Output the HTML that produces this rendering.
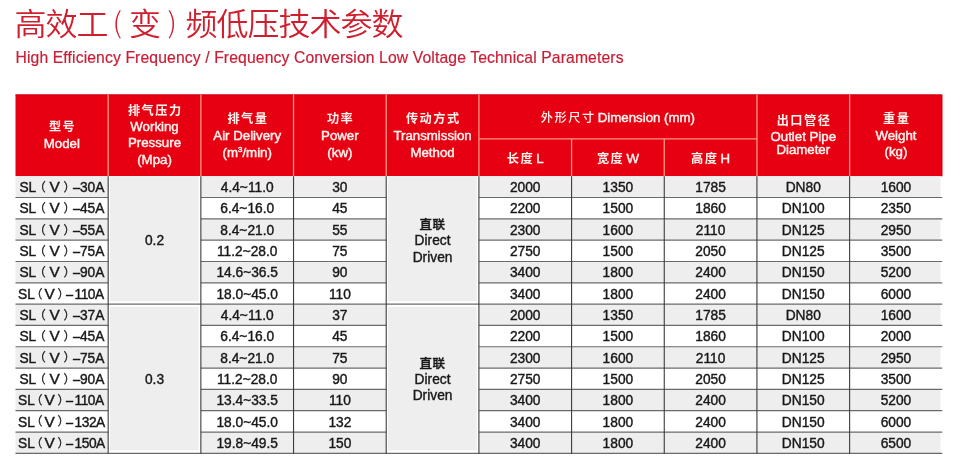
<!DOCTYPE html>
<html lang="zh-CN">
<head>
<meta charset="utf-8">
<title>高效工(变)频低压技术参数</title>
<style>
html,body{margin:0;padding:0;background:#fff;}
body{width:960px;height:473px;position:relative;overflow:hidden;font-family:"Liberation Sans","Noto Sans CJK SC",sans-serif;color:#181818;}
#bg{position:absolute;left:0;top:0;width:960px;height:473px;}
h1{position:absolute;left:14.5px;top:-1.4px;margin:0;font-family:"Noto Sans CJK SC","Liberation Sans",sans-serif;font-weight:350;font-size:32px;line-height:44px;letter-spacing:-1px;color:#cf1f2e;transform-origin:0 37px;transform:scaleY(0.95);white-space:nowrap;}
h1 .pl{display:inline-block;position:relative;top:-2px;letter-spacing:0;text-align:center;font-weight:300;font-size:30px;}
h1 .pl1{width:21.5px;left:-1px;}
h1 .pl2{width:25.5px;left:-0.5px;}
h2{position:absolute;left:15.5px;top:47.6px;margin:0;font-weight:400;font-size:15.7px;line-height:20px;letter-spacing:0.13px;color:#c81e36;-webkit-text-stroke:0.2px #c81e36;white-space:nowrap;}
.d{position:absolute;width:92.68px;height:21.32px;line-height:21.32px;font-size:13.75px;text-align:center;padding-top:0.9px;white-space:nowrap;-webkit-text-stroke:0.4px #181818;}
.m{position:absolute;left:0;width:110px;height:21.32px;line-height:21.32px;font-size:13.75px;white-space:nowrap;-webkit-text-stroke:0.4px #181818;}
.m span{position:absolute;top:0.9px;}
.m .p1,.m .p2{font-family:"Noto Sans CJK SC",sans-serif;font-size:12px;-webkit-text-stroke:0.25px #181818;top:-0.3px;margin-left:0.3px;}
.m .ds{transform-origin:0 50%;transform:scaleX(0.93);}
.m .v{transform-origin:50% 50%;transform:scaleX(1.12);}

.m2 .a{left:19.4px} .m2 .p1{left:33.4px} .m2 .v{left:50.3px} .m2 .p2{left:63.2px} .m2 .ds{left:72.6px} .m2 .n{left:79.9px}
.m3 .a{left:18px} .m3 .p1{left:30.1px} .m3 .v{left:44.8px} .m3 .p2{left:57.1px} .m3 .ds{left:66.2px} .m3 .n{left:74.6px;letter-spacing:-0.5px}
.mg{position:absolute;width:92.68px;display:flex;align-items:center;justify-content:center;text-align:center;font-size:13.75px;line-height:16.7px;-webkit-text-stroke:0.4px #181818;}
.h{position:absolute;height:16px;line-height:16px;text-align:center;color:#fff4ee;font-size:13.25px;white-space:nowrap;-webkit-text-stroke:0.45px #fff4ee;}
.h .zh{font-family:"Noto Sans CJK SC",sans-serif;font-weight:700;font-size:12.2px;letter-spacing:1.5px;margin-right:-1.5px;-webkit-text-stroke:0;}
.h .zl{font-weight:500;}
.mg .zh{font-family:"Noto Sans CJK SC",sans-serif;font-weight:500;font-size:12.5px;letter-spacing:0.5px;line-height:1;position:relative;top:0.6px;}
sup{font-size:8px;line-height:0;vertical-align:5px;}
</style>
</head>
<body>
<svg id="bg" width="960" height="473" viewBox="0 0 960 473">
<rect x="15.5" y="94.5" width="926.8" height="81.7" fill="#e60012"/>
<path d="M15.5 95H941.8V176.2" fill="none" stroke="#c9000f" stroke-width="1"/>
<rect x="15.5" y="176.2" width="925" height="21.32" fill="#eeeeee"/>
<rect x="15.5" y="218.84" width="925" height="21.32" fill="#eeeeee"/>
<rect x="15.5" y="261.48" width="925" height="21.32" fill="#eeeeee"/>
<rect x="15.5" y="304.12" width="925" height="21.32" fill="#eeeeee"/>
<rect x="15.5" y="346.76" width="925" height="21.32" fill="#eeeeee"/>
<rect x="15.5" y="389.4" width="925" height="21.32" fill="#eeeeee"/>
<rect x="15.5" y="432.04" width="925" height="21.32" fill="#eeeeee"/>
<rect x="108.18" y="176.2" width="92.68" height="277.16" fill="#fff"/>
<rect x="109.98" y="176.2" width="88.68" height="125.12" fill="#eeeeee"/>
<rect x="109.98" y="306.72" width="88.68" height="143.64" fill="#eeeeee"/>
<rect x="386.22" y="176.2" width="92.68" height="277.16" fill="#fff"/>
<rect x="388.02" y="176.2" width="88.68" height="125.12" fill="#eeeeee"/>
<rect x="388.02" y="306.72" width="88.68" height="143.64" fill="#eeeeee"/>
<line x1="108.18" y1="94.5" x2="108.18" y2="176.2" stroke="#ff9685" stroke-width="1.3"/>
<line x1="200.86" y1="94.5" x2="200.86" y2="176.2" stroke="#ff9685" stroke-width="1.3"/>
<line x1="293.54" y1="94.5" x2="293.54" y2="176.2" stroke="#ff9685" stroke-width="1.3"/>
<line x1="386.22" y1="94.5" x2="386.22" y2="176.2" stroke="#ff9685" stroke-width="1.3"/>
<line x1="478.9" y1="94.5" x2="478.9" y2="176.2" stroke="#ff9685" stroke-width="1.3"/>
<line x1="571.58" y1="138.9" x2="571.58" y2="176.2" stroke="#ff9685" stroke-width="1.3"/>
<line x1="664.26" y1="138.9" x2="664.26" y2="176.2" stroke="#ff9685" stroke-width="1.3"/>
<line x1="756.94" y1="94.5" x2="756.94" y2="176.2" stroke="#ff9685" stroke-width="1.3"/>
<line x1="849.62" y1="94.5" x2="849.62" y2="176.2" stroke="#ff9685" stroke-width="1.3"/>
<line x1="478.9" y1="138.9" x2="756.94" y2="138.9" stroke="#ff9685" stroke-width="1.3"/>
<line x1="15.5" y1="197.52" x2="108.18" y2="197.52" stroke="#6a6a6a" stroke-width="1.2"/>
<line x1="200.86" y1="197.52" x2="386.22" y2="197.52" stroke="#6a6a6a" stroke-width="1.2"/>
<line x1="478.9" y1="197.52" x2="942.3" y2="197.52" stroke="#6a6a6a" stroke-width="1.2"/>
<line x1="15.5" y1="218.84" x2="108.18" y2="218.84" stroke="#6a6a6a" stroke-width="1.2"/>
<line x1="200.86" y1="218.84" x2="386.22" y2="218.84" stroke="#6a6a6a" stroke-width="1.2"/>
<line x1="478.9" y1="218.84" x2="942.3" y2="218.84" stroke="#6a6a6a" stroke-width="1.2"/>
<line x1="15.5" y1="240.16" x2="108.18" y2="240.16" stroke="#6a6a6a" stroke-width="1.2"/>
<line x1="200.86" y1="240.16" x2="386.22" y2="240.16" stroke="#6a6a6a" stroke-width="1.2"/>
<line x1="478.9" y1="240.16" x2="942.3" y2="240.16" stroke="#6a6a6a" stroke-width="1.2"/>
<line x1="15.5" y1="261.48" x2="108.18" y2="261.48" stroke="#6a6a6a" stroke-width="1.2"/>
<line x1="200.86" y1="261.48" x2="386.22" y2="261.48" stroke="#6a6a6a" stroke-width="1.2"/>
<line x1="478.9" y1="261.48" x2="942.3" y2="261.48" stroke="#6a6a6a" stroke-width="1.2"/>
<line x1="15.5" y1="282.8" x2="108.18" y2="282.8" stroke="#6a6a6a" stroke-width="1.2"/>
<line x1="200.86" y1="282.8" x2="386.22" y2="282.8" stroke="#6a6a6a" stroke-width="1.2"/>
<line x1="478.9" y1="282.8" x2="942.3" y2="282.8" stroke="#6a6a6a" stroke-width="1.2"/>
<line x1="15.5" y1="304.12" x2="942.3" y2="304.12" stroke="#6a6a6a" stroke-width="1.2"/>
<line x1="15.5" y1="325.44" x2="108.18" y2="325.44" stroke="#6a6a6a" stroke-width="1.2"/>
<line x1="200.86" y1="325.44" x2="386.22" y2="325.44" stroke="#6a6a6a" stroke-width="1.2"/>
<line x1="478.9" y1="325.44" x2="942.3" y2="325.44" stroke="#6a6a6a" stroke-width="1.2"/>
<line x1="15.5" y1="346.76" x2="108.18" y2="346.76" stroke="#6a6a6a" stroke-width="1.2"/>
<line x1="200.86" y1="346.76" x2="386.22" y2="346.76" stroke="#6a6a6a" stroke-width="1.2"/>
<line x1="478.9" y1="346.76" x2="942.3" y2="346.76" stroke="#6a6a6a" stroke-width="1.2"/>
<line x1="15.5" y1="368.08" x2="108.18" y2="368.08" stroke="#6a6a6a" stroke-width="1.2"/>
<line x1="200.86" y1="368.08" x2="386.22" y2="368.08" stroke="#6a6a6a" stroke-width="1.2"/>
<line x1="478.9" y1="368.08" x2="942.3" y2="368.08" stroke="#6a6a6a" stroke-width="1.2"/>
<line x1="15.5" y1="389.4" x2="108.18" y2="389.4" stroke="#6a6a6a" stroke-width="1.2"/>
<line x1="200.86" y1="389.4" x2="386.22" y2="389.4" stroke="#6a6a6a" stroke-width="1.2"/>
<line x1="478.9" y1="389.4" x2="942.3" y2="389.4" stroke="#6a6a6a" stroke-width="1.2"/>
<line x1="15.5" y1="410.72" x2="108.18" y2="410.72" stroke="#6a6a6a" stroke-width="1.2"/>
<line x1="200.86" y1="410.72" x2="386.22" y2="410.72" stroke="#6a6a6a" stroke-width="1.2"/>
<line x1="478.9" y1="410.72" x2="942.3" y2="410.72" stroke="#6a6a6a" stroke-width="1.2"/>
<line x1="15.5" y1="432.04" x2="108.18" y2="432.04" stroke="#6a6a6a" stroke-width="1.2"/>
<line x1="200.86" y1="432.04" x2="386.22" y2="432.04" stroke="#6a6a6a" stroke-width="1.2"/>
<line x1="478.9" y1="432.04" x2="942.3" y2="432.04" stroke="#6a6a6a" stroke-width="1.2"/>
<line x1="15.5" y1="453.36" x2="942.3" y2="453.36" stroke="#6a6a6a" stroke-width="1.2"/>
<line x1="108.18" y1="176.2" x2="108.18" y2="453.86" stroke="#3c3c3c" stroke-width="1.1"/>
<line x1="200.86" y1="176.2" x2="200.86" y2="453.86" stroke="#3c3c3c" stroke-width="1.1"/>
<line x1="293.54" y1="176.2" x2="293.54" y2="453.86" stroke="#3c3c3c" stroke-width="1.1"/>
<line x1="386.22" y1="176.2" x2="386.22" y2="453.86" stroke="#3c3c3c" stroke-width="1.1"/>
<line x1="478.9" y1="176.2" x2="478.9" y2="453.86" stroke="#3c3c3c" stroke-width="1.1"/>
<line x1="571.58" y1="176.2" x2="571.58" y2="453.86" stroke="#3c3c3c" stroke-width="1.1"/>
<line x1="664.26" y1="176.2" x2="664.26" y2="453.86" stroke="#3c3c3c" stroke-width="1.1"/>
<line x1="756.94" y1="176.2" x2="756.94" y2="453.86" stroke="#3c3c3c" stroke-width="1.1"/>
<line x1="849.62" y1="176.2" x2="849.62" y2="453.86" stroke="#3c3c3c" stroke-width="1.1"/>
</svg>
<h1>高效工<span class="pl pl1">(</span>变<span class="pl pl2">)</span>频低压技术参数</h1>
<h2>High Efficiency Frequency / Frequency Conversion Low Voltage Technical Parameters</h2>
<div class="m m2" style="top:176.2px"><span class="a">SL</span><span class="p1">（</span><span class="v">V</span><span class="p2">）</span><span class="ds">–</span><span class="n">30A</span></div>
<div class="d" style="left:200.86px;top:176.2px">4.4~11.0</div>
<div class="d" style="left:293.54px;top:176.2px">30</div>
<div class="d" style="left:478.9px;top:176.2px">2000</div>
<div class="d" style="left:571.58px;top:176.2px">1350</div>
<div class="d" style="left:664.26px;top:176.2px">1785</div>
<div class="d" style="left:756.94px;top:176.2px">DN80</div>
<div class="d" style="left:849.62px;top:176.2px">1600</div>
<div class="m m2" style="top:197.52px"><span class="a">SL</span><span class="p1">（</span><span class="v">V</span><span class="p2">）</span><span class="ds">–</span><span class="n">45A</span></div>
<div class="d" style="left:200.86px;top:197.52px">6.4~16.0</div>
<div class="d" style="left:293.54px;top:197.52px">45</div>
<div class="d" style="left:478.9px;top:197.52px">2200</div>
<div class="d" style="left:571.58px;top:197.52px">1500</div>
<div class="d" style="left:664.26px;top:197.52px">1860</div>
<div class="d" style="left:756.94px;top:197.52px">DN100</div>
<div class="d" style="left:849.62px;top:197.52px">2350</div>
<div class="m m2" style="top:218.84px"><span class="a">SL</span><span class="p1">（</span><span class="v">V</span><span class="p2">）</span><span class="ds">–</span><span class="n">55A</span></div>
<div class="d" style="left:200.86px;top:218.84px">8.4~21.0</div>
<div class="d" style="left:293.54px;top:218.84px">55</div>
<div class="d" style="left:478.9px;top:218.84px">2300</div>
<div class="d" style="left:571.58px;top:218.84px">1600</div>
<div class="d" style="left:664.26px;top:218.84px">2110</div>
<div class="d" style="left:756.94px;top:218.84px">DN125</div>
<div class="d" style="left:849.62px;top:218.84px">2950</div>
<div class="m m2" style="top:240.16px"><span class="a">SL</span><span class="p1">（</span><span class="v">V</span><span class="p2">）</span><span class="ds">–</span><span class="n">75A</span></div>
<div class="d" style="left:200.86px;top:240.16px">11.2~28.0</div>
<div class="d" style="left:293.54px;top:240.16px">75</div>
<div class="d" style="left:478.9px;top:240.16px">2750</div>
<div class="d" style="left:571.58px;top:240.16px">1500</div>
<div class="d" style="left:664.26px;top:240.16px">2050</div>
<div class="d" style="left:756.94px;top:240.16px">DN125</div>
<div class="d" style="left:849.62px;top:240.16px">3500</div>
<div class="m m2" style="top:261.48px"><span class="a">SL</span><span class="p1">（</span><span class="v">V</span><span class="p2">）</span><span class="ds">–</span><span class="n">90A</span></div>
<div class="d" style="left:200.86px;top:261.48px">14.6~36.5</div>
<div class="d" style="left:293.54px;top:261.48px">90</div>
<div class="d" style="left:478.9px;top:261.48px">3400</div>
<div class="d" style="left:571.58px;top:261.48px">1800</div>
<div class="d" style="left:664.26px;top:261.48px">2400</div>
<div class="d" style="left:756.94px;top:261.48px">DN150</div>
<div class="d" style="left:849.62px;top:261.48px">5200</div>
<div class="m m3" style="top:282.8px"><span class="a">SL</span><span class="p1">（</span><span class="v">V</span><span class="p2">）</span><span class="ds">–</span><span class="n">110A</span></div>
<div class="d" style="left:200.86px;top:282.8px">18.0~45.0</div>
<div class="d" style="left:293.54px;top:282.8px">110</div>
<div class="d" style="left:478.9px;top:282.8px">3400</div>
<div class="d" style="left:571.58px;top:282.8px">1800</div>
<div class="d" style="left:664.26px;top:282.8px">2400</div>
<div class="d" style="left:756.94px;top:282.8px">DN150</div>
<div class="d" style="left:849.62px;top:282.8px">6000</div>
<div class="m m2" style="top:304.12px"><span class="a">SL</span><span class="p1">（</span><span class="v">V</span><span class="p2">）</span><span class="ds">–</span><span class="n">37A</span></div>
<div class="d" style="left:200.86px;top:304.12px">4.4~11.0</div>
<div class="d" style="left:293.54px;top:304.12px">37</div>
<div class="d" style="left:478.9px;top:304.12px">2000</div>
<div class="d" style="left:571.58px;top:304.12px">1350</div>
<div class="d" style="left:664.26px;top:304.12px">1785</div>
<div class="d" style="left:756.94px;top:304.12px">DN80</div>
<div class="d" style="left:849.62px;top:304.12px">1600</div>
<div class="m m2" style="top:325.44px"><span class="a">SL</span><span class="p1">（</span><span class="v">V</span><span class="p2">）</span><span class="ds">–</span><span class="n">45A</span></div>
<div class="d" style="left:200.86px;top:325.44px">6.4~16.0</div>
<div class="d" style="left:293.54px;top:325.44px">45</div>
<div class="d" style="left:478.9px;top:325.44px">2200</div>
<div class="d" style="left:571.58px;top:325.44px">1500</div>
<div class="d" style="left:664.26px;top:325.44px">1860</div>
<div class="d" style="left:756.94px;top:325.44px">DN100</div>
<div class="d" style="left:849.62px;top:325.44px">2000</div>
<div class="m m2" style="top:346.76px"><span class="a">SL</span><span class="p1">（</span><span class="v">V</span><span class="p2">）</span><span class="ds">–</span><span class="n">75A</span></div>
<div class="d" style="left:200.86px;top:346.76px">8.4~21.0</div>
<div class="d" style="left:293.54px;top:346.76px">75</div>
<div class="d" style="left:478.9px;top:346.76px">2300</div>
<div class="d" style="left:571.58px;top:346.76px">1600</div>
<div class="d" style="left:664.26px;top:346.76px">2110</div>
<div class="d" style="left:756.94px;top:346.76px">DN125</div>
<div class="d" style="left:849.62px;top:346.76px">2950</div>
<div class="m m2" style="top:368.08px"><span class="a">SL</span><span class="p1">（</span><span class="v">V</span><span class="p2">）</span><span class="ds">–</span><span class="n">90A</span></div>
<div class="d" style="left:200.86px;top:368.08px">11.2~28.0</div>
<div class="d" style="left:293.54px;top:368.08px">90</div>
<div class="d" style="left:478.9px;top:368.08px">2750</div>
<div class="d" style="left:571.58px;top:368.08px">1500</div>
<div class="d" style="left:664.26px;top:368.08px">2050</div>
<div class="d" style="left:756.94px;top:368.08px">DN125</div>
<div class="d" style="left:849.62px;top:368.08px">3500</div>
<div class="m m3" style="top:389.4px"><span class="a">SL</span><span class="p1">（</span><span class="v">V</span><span class="p2">）</span><span class="ds">–</span><span class="n">110A</span></div>
<div class="d" style="left:200.86px;top:389.4px">13.4~33.5</div>
<div class="d" style="left:293.54px;top:389.4px">110</div>
<div class="d" style="left:478.9px;top:389.4px">3400</div>
<div class="d" style="left:571.58px;top:389.4px">1800</div>
<div class="d" style="left:664.26px;top:389.4px">2400</div>
<div class="d" style="left:756.94px;top:389.4px">DN150</div>
<div class="d" style="left:849.62px;top:389.4px">5200</div>
<div class="m m3" style="top:410.72px"><span class="a">SL</span><span class="p1">（</span><span class="v">V</span><span class="p2">）</span><span class="ds">–</span><span class="n">132A</span></div>
<div class="d" style="left:200.86px;top:410.72px">18.0~45.0</div>
<div class="d" style="left:293.54px;top:410.72px">132</div>
<div class="d" style="left:478.9px;top:410.72px">3400</div>
<div class="d" style="left:571.58px;top:410.72px">1800</div>
<div class="d" style="left:664.26px;top:410.72px">2400</div>
<div class="d" style="left:756.94px;top:410.72px">DN150</div>
<div class="d" style="left:849.62px;top:410.72px">6000</div>
<div class="m m3" style="top:432.04px"><span class="a">SL</span><span class="p1">（</span><span class="v">V</span><span class="p2">）</span><span class="ds">–</span><span class="n">150A</span></div>
<div class="d" style="left:200.86px;top:432.04px">19.8~49.5</div>
<div class="d" style="left:293.54px;top:432.04px">150</div>
<div class="d" style="left:478.9px;top:432.04px">3400</div>
<div class="d" style="left:571.58px;top:432.04px">1800</div>
<div class="d" style="left:664.26px;top:432.04px">2400</div>
<div class="d" style="left:756.94px;top:432.04px">DN150</div>
<div class="d" style="left:849.62px;top:432.04px">6500</div>
<div class="mg" style="left:108.18px;top:177.2px;height:127.92px"><div>0.2</div></div>
<div class="mg" style="left:108.18px;top:305.62px;height:149.24px"><div>0.3</div></div>
<div class="mg" style="left:386.22px;top:177.6px;height:127.92px"><div><span class="zh">直联</span><br>Direct<br>Driven</div></div>
<div class="mg" style="left:386.22px;top:305.52px;height:149.24px"><div><span class="zh">直联</span><br>Direct<br>Driven</div></div>
<div class="h" style="left:15.5px;width:92.68px;top:117.7px"><span class="zh">型号</span></div>
<div class="h" style="left:15.5px;width:92.68px;top:135.7px">Model</div>
<div class="h" style="left:108.18px;width:92.68px;top:102px"><span class="zh">排气压力</span></div>
<div class="h" style="left:108.18px;width:92.68px;top:119.1px">Working</div>
<div class="h" style="left:108.18px;width:92.68px;top:135.3px">Pressure</div>
<div class="h" style="left:108.18px;width:92.68px;top:152.4px">(Mpa)</div>
<div class="h" style="left:200.86px;width:92.68px;top:109.8px"><span class="zh">排气量</span></div>
<div class="h" style="left:200.86px;width:92.68px;top:128.4px">Air Delivery</div>
<div class="h" style="left:200.86px;width:92.68px;top:144.5px">(m<sup>3</sup>/min)</div>
<div class="h" style="left:293.54px;width:92.68px;top:109.7px"><span class="zh">功率</span></div>
<div class="h" style="left:293.54px;width:92.68px;top:128px">Power</div>
<div class="h" style="left:293.54px;width:92.68px;top:144.5px">(kw)</div>
<div class="h" style="left:386.22px;width:92.68px;top:109.7px"><span class="zh">传动方式</span></div>
<div class="h" style="left:386.22px;width:92.68px;top:128px">Transmission</div>
<div class="h" style="left:386.22px;width:92.68px;top:144.5px">Method</div>
<div class="h" style="left:478.9px;width:278.04px;top:108.6px"><span class="zh zl">外形尺寸</span> Dimension (mm)</div>
<div class="h" style="left:478.9px;width:92.68px;top:149.7px"><span class="zh">长度</span> L</div>
<div class="h" style="left:571.58px;width:92.68px;top:149.7px"><span class="zh">宽度</span> W</div>
<div class="h" style="left:664.26px;width:92.68px;top:149.7px"><span class="zh">高度</span> H</div>
<div class="h" style="left:756.94px;width:92.68px;top:111.9px"><span class="zh">出口管径</span></div>
<div class="h" style="left:756.94px;width:92.68px;top:128.9px">Outlet Pipe</div>
<div class="h" style="left:756.94px;width:92.68px;top:142.4px">Diameter</div>
<div class="h" style="left:849.62px;width:92.68px;top:110.4px"><span class="zh">重量</span></div>
<div class="h" style="left:849.62px;width:92.68px;top:128px">Weight</div>
<div class="h" style="left:849.62px;width:92.68px;top:143.7px">(kg)</div>
</body>
</html>
